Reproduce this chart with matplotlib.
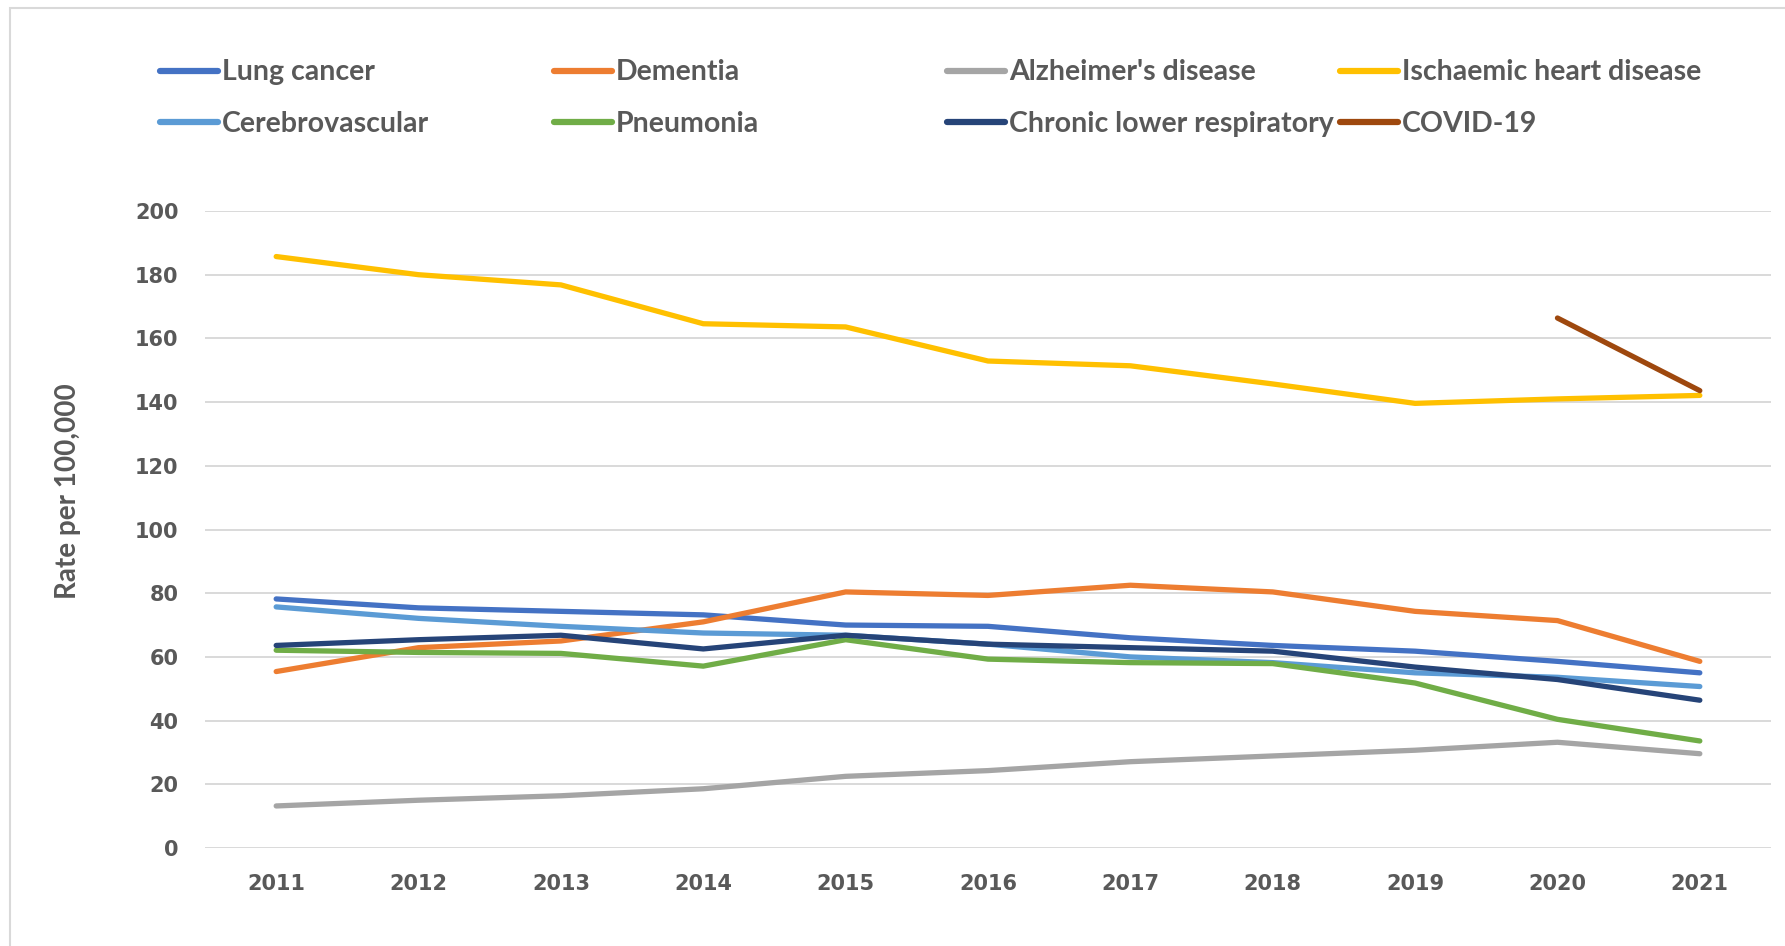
import matplotlib
matplotlib.use("Agg")
import matplotlib.pyplot as plt
from matplotlib.lines import Line2D
from matplotlib.patches import Rectangle

years = [2011, 2012, 2013, 2014, 2015, 2016, 2017, 2018, 2019, 2020, 2021]

lung_cancer = [78.2, 75.4, 74.3, 73.2, 70.0, 69.6, 66.0, 63.6, 61.8, 58.6, 55.0]
dementia = [55.4, 62.9, 65.0, 71.0, 80.4, 79.3, 82.5, 80.4, 74.3, 71.4, 58.6]
alzheimers = [13.2, 15.0, 16.4, 18.6, 22.5, 24.3, 27.1, 28.9, 30.7, 33.2, 29.6]
ischaemic = [185.7, 180.0, 176.8, 164.6, 163.6, 152.9, 151.4, 145.7, 139.6, 141.0, 142.1]
cerebrovascular = [75.7, 72.1, 69.6, 67.5, 66.8, 64.0, 60.0, 58.2, 55.0, 53.6, 50.7]
pneumonia = [62.1, 61.4, 61.1, 57.1, 65.4, 59.3, 58.2, 57.9, 51.8, 40.4, 33.6]
chronic_resp = [63.6, 65.4, 66.8, 62.5, 66.8, 64.0, 62.9, 61.8, 56.8, 52.9, 46.4]
covid_years = [2020, 2021]
covid = [166.4, 143.6]

labels = ["Lung cancer", "Dementia", "Alzheimer's disease", "Ischaemic heart disease",
          "Cerebrovascular", "Pneumonia", "Chronic lower respiratory", "COVID-19"]
colors = ["#4472C4", "#ED7D31", "#A5A5A5", "#FFC000",
          "#5B9BD5", "#70AD47", "#264478", "#9E480E"]

label_font = ["Lato", "DejaVu Sans"]
grey_text = "#595959"

W, H = 1785, 946
fig = plt.figure(figsize=(W / 100, H / 100), dpi=100)
ax = fig.add_axes([205 / W, 1 - 848 / H, (1771 - 205) / W, (848 - 211) / H])

series = [lung_cancer, dementia, alzheimers, ischaemic,
          cerebrovascular, pneumonia, chronic_resp]
pos = list(range(len(years)))
for vals, lab, col in zip(series, labels[:7], colors[:7]):
    ax.plot(pos, vals, color=col, lw=3.8, solid_capstyle="round",
            solid_joinstyle="round", label=lab)
covid_pos = [years.index(y) for y in covid_years]
ax.plot(covid_pos, covid, color=colors[7], lw=3.8, solid_capstyle="round",
        label=labels[7])

ax.set_xlim(-0.5, len(years) - 0.5)
ax.set_ylim(0, 200)
ax.set_yticks(range(0, 201, 20))
ax.set_xticks(pos)
ax.set_xticklabels([str(y) for y in years])
ax.grid(axis="y", color="#D9D9D9", lw=1.4)
ax.set_axisbelow(True)
for s in ax.spines.values():
    s.set_visible(False)
ax.tick_params(length=0, labelsize=15, labelcolor=grey_text, pad=19)
for t in ax.get_xticklabels() + ax.get_yticklabels():
    t.set_fontweight("bold")

fig.text(68 / W, 1 - 491 / H, "Rate per 100,000", rotation=90, ha="center",
         va="center", fontsize=20, fontweight="bold", color=grey_text,
         family=label_font)

# legend laid out as four fixed-width columns of two rows
col_x = [160, 554, 947, 1340]
for c in range(4):
    handles = [Line2D([], [], color=colors[c], lw=4.5, solid_capstyle="round"),
               Line2D([], [], color=colors[c + 4], lw=4.5, solid_capstyle="round")]
    fig.legend(handles, [labels[c], labels[c + 4]], loc="center left",
               bbox_to_anchor=(col_x[c] / W, 1 - 98 / H), frameon=False,
               prop={"family": label_font, "size": 20.5, "weight": "bold"},
               labelcolor=grey_text,
               handlelength=2.05, handletextpad=0.12, labelspacing=0.88,
               borderpad=0, borderaxespad=0)

fig.add_artist(Rectangle((10 / W, -0.05), 1.1, 1 - 8 / H + 0.05,
                         transform=fig.transFigure, fill=False,
                         edgecolor="#D9D9D9", lw=1.5))

fig.savefig("out.png", dpi=100)
